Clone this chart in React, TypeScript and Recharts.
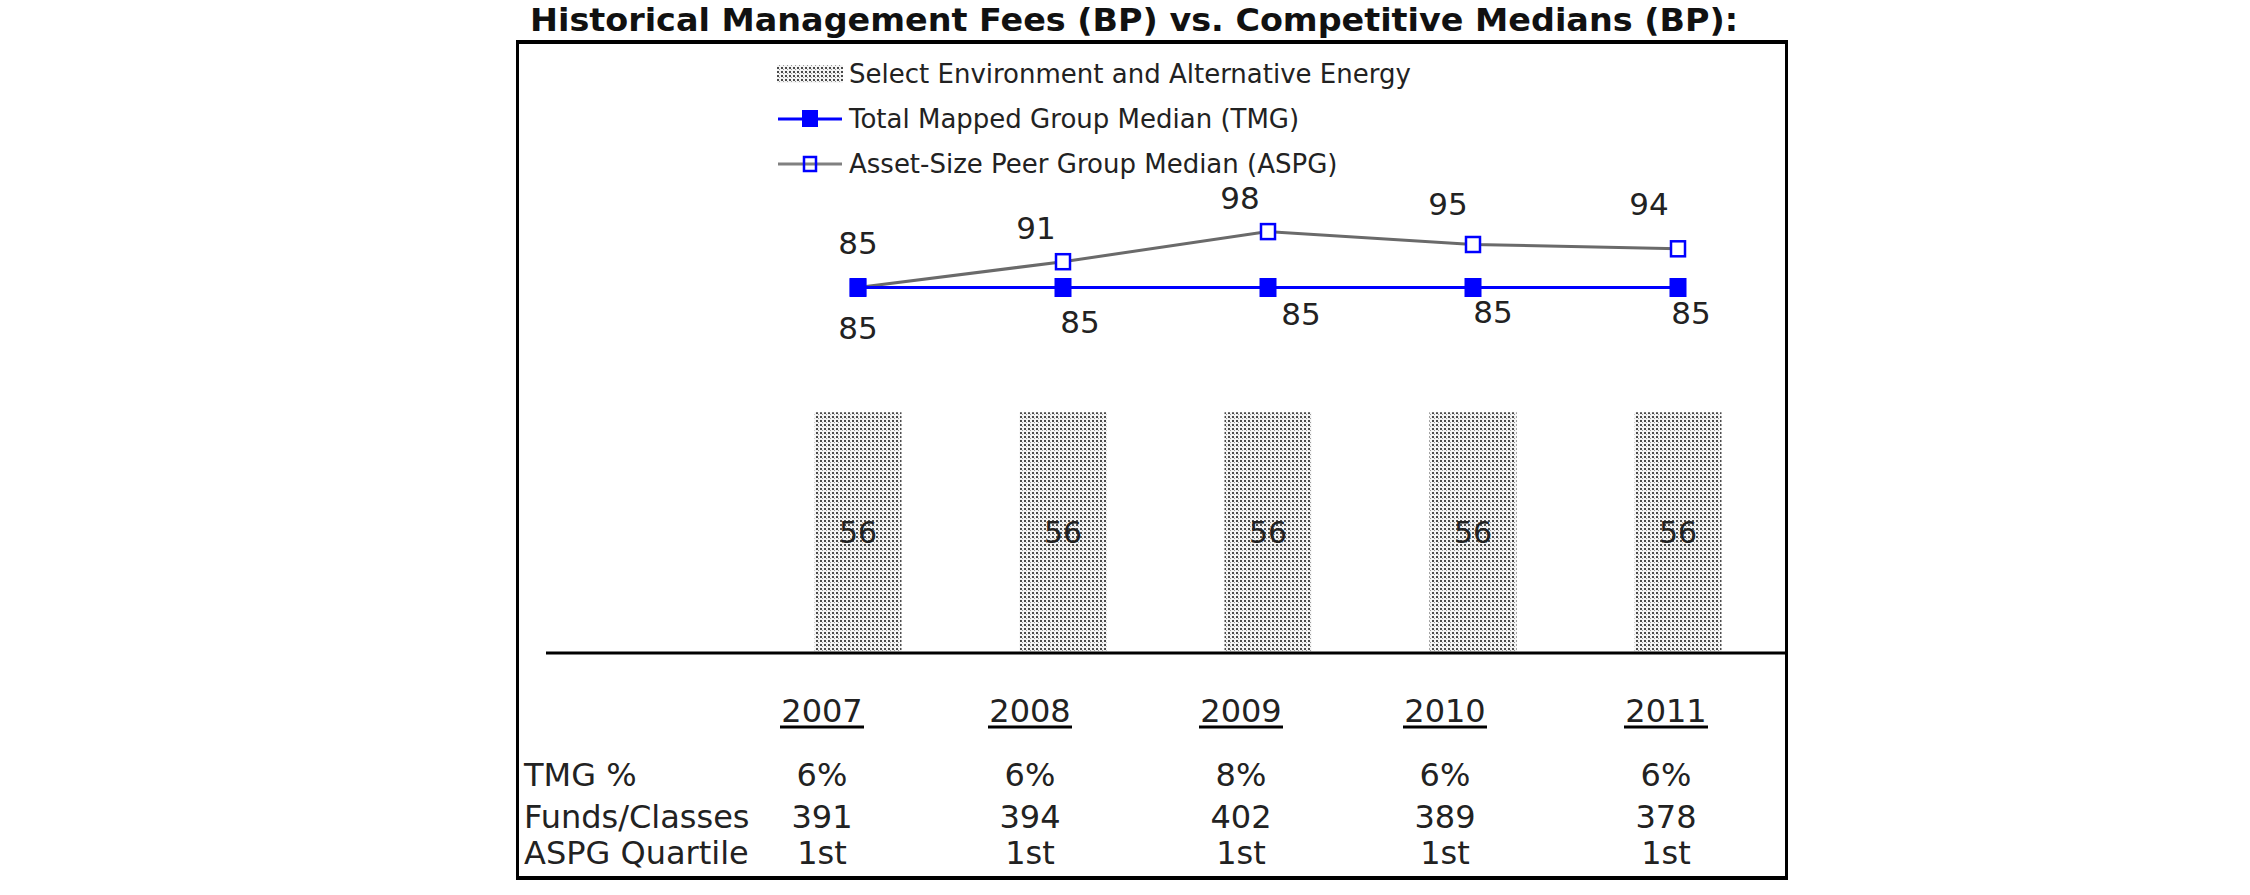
import {
  ComposedChart,
  Bar,
  Line,
  XAxis,
  YAxis,
  LabelList,
  Legend,
} from "recharts";

const years = ["2007", "2008", "2009", "2010", "2011"];
const fundFees = [56, 56, 56, 56, 56];
const tmgMedian = [85, 85, 85, 85, 85];
const aspgMedian = [85, 91, 98, 95, 94];
const tmgPct = ["6%", "6%", "8%", "6%", "6%"];
const fundsClasses = [391, 394, 402, 389, 378];
const aspgQuartile = ["1st", "1st", "1st", "1st", "1st"];
const rowLabels = ["TMG %", "Funds/Classes", "ASPG Quartile"];

const seriesNames: Record<string, string> = {
  fund: "Select Environment and Alternative Energy",
  tmg: "Total Mapped Group Median (TMG)",
  aspg: "Asset-Size Peer Group Median (ASPG)",
};

// label placement, as it sits in the original (dx, dy from the point)
const aspgNudge = [[0, -45], [-27, -34], [-28, -34], [-25, -41], [-29, -45]];
const tmgNudge = [[0, 40], [17, 34], [33, 26], [20, 24], [13, 25]];
const columnNudge = [-36, -33, -27, -28, -12];

const FONT = "'DejaVu Sans', Verdana, sans-serif";
const TEXT = "#222";

const chartData = years.map((year, i) => ({
  year,
  fund: fundFees[i],
  tmg: tmgMedian[i],
  aspg: aspgMedian[i],
}));

const FilledSquare = ({ cx, cy }: any) =>
  cx == null ? null : (
    <rect x={cx - 8.5} y={cy - 9.5} width={17} height={19} fill="#0000ff" />
  );

const HollowSquare = ({ cx, cy }: any) =>
  cx == null ? null : (
    <rect
      x={cx - 7}
      y={cy - 7.5}
      width={14}
      height={15}
      fill="#fff"
      stroke="#0000ff"
      strokeWidth={2.5}
    />
  );

const nudgedLabel = (nudge: number[][]) => (props: any) => {
  const { x, y, value, index } = props;
  const [dx, dy] = nudge[index] || [0, 0];
  return (
    <text
      x={x + dx}
      y={y + dy}
      textAnchor="middle"
      dominantBaseline="central"
      fontSize={31}
      fontFamily={FONT}
      fill={TEXT}
    >
      {value}
    </text>
  );
};

const barLabel = (props: any) => {
  const { x, y, width, height, value } = props;
  return (
    <text
      x={x + width / 2}
      y={y + height / 2}
      textAnchor="middle"
      dominantBaseline="central"
      fontSize={30}
      fontFamily={FONT}
      fill={TEXT}
    >
      {value}
    </text>
  );
};

const TableTick = (props: any) => {
  const { x, y, payload } = props;
  const i = payload.index;
  const cx = x + (columnNudge[i] || 0);
  const cell = (text: string | number, dy: number) => (
    <text
      x={cx}
      y={y + dy}
      textAnchor="middle"
      dominantBaseline="central"
      fontSize={32}
      fontFamily={FONT}
      fill={TEXT}
    >
      {text}
    </text>
  );
  return (
    <g>
      {cell(payload.value, 58)}
      <line x1={cx - 42} x2={cx + 42} y1={y + 74} y2={y + 74} stroke="#000" strokeWidth={3} />
      {cell(tmgPct[i], 122)}
      {cell(fundsClasses[i], 164)}
      {cell(aspgQuartile[i], 200)}
    </g>
  );
};

const legendOrder = ["fund", "tmg", "aspg"];

const LegendSwatch = ({ kind }: { kind: string }) => (
  <svg width={66} height={30} style={{ display: "block" }}>
    {kind === "fund" && <rect x={0} y={6} width={66} height={18} fill="url(#stipple)" />}
    {kind === "tmg" && (
      <g>
        <line x1={1} x2={65} y1={15} y2={15} stroke="#0000ff" strokeWidth={3} />
        <rect x={25} y={6} width={16} height={17} fill="#0000ff" />
      </g>
    )}
    {kind === "aspg" && (
      <g>
        <line x1={1} x2={65} y1={15} y2={15} stroke="#808080" strokeWidth={3} />
        <rect x={27} y={8} width={12} height={14} fill="none" stroke="#0000ff" strokeWidth={2.5} />
      </g>
    )}
  </svg>
);

const LegendContent = () => (
  <div style={{ fontFamily: FONT, fontSize: 26, color: TEXT }}>
    {legendOrder.map((key) => (
      <div key={key} style={{ display: "flex", alignItems: "center", height: 45 }}>
        <LegendSwatch kind={key} />
        <span style={{ marginLeft: 6, whiteSpace: "nowrap" }}>{seriesNames[key]}</span>
      </div>
    ))}
  </div>
);

export default function App() {
  return (
    <div
      style={{
        position: "absolute",
        left: 0,
        top: 0,
        width: 2250,
        height: 895,
        background: "#fff",
        overflow: "hidden",
      }}
    >
      <svg width={2250} height={895} style={{ position: "absolute", left: 0, top: 0 }}>
        <text
          x={530}
          y={31}
          fontSize={32}
          fontWeight="bold"
          fontFamily={FONT}
          fill="#111"
          textLength={1208}
          lengthAdjust="spacingAndGlyphs"
        >
          Historical Management Fees (BP) vs. Competitive Medians (BP):
        </text>
        {rowLabels.map((label, i) => (
          <text
            key={label}
            x={524}
            y={[775, 817, 853][i]}
            dominantBaseline="central"
            fontSize={32}
            fontFamily={FONT}
            fill={TEXT}
          >
            {label}
          </text>
        ))}
      </svg>
      <div
        style={{
          position: "absolute",
          left: 516,
          top: 40,
          width: 1272,
          height: 840,
          boxSizing: "border-box",
          borderTop: "4px solid #000",
          borderBottom: "4px solid #000",
          borderLeft: "3px solid #000",
          borderRight: "3px solid #000",
        }}
      />
      <div style={{ position: "absolute", left: 0, top: 0 }}>
        <ComposedChart
          width={2250}
          height={895}
          data={chartData}
          margin={{ top: 223, right: 465, bottom: 12, left: 546 }}
        >
          <defs>
            <pattern id="stipple" width={4} height={4} patternUnits="userSpaceOnUse">
              <rect width={4} height={4} fill="#f4f4f4" />
              <rect x={0} y={0} width={2} height={2} fill="#4a4a4a" />
              <rect x={2} y={2} width={1} height={1} fill="#9a9a9a" />
            </pattern>
          </defs>
          <XAxis
            dataKey="year"
            axisLine={{ stroke: "#000", strokeWidth: 3 }}
            tickLine={false}
            tickSize={0}
            tickMargin={0}
            height={230}
            interval={0}
            padding={{ left: 209.5, right: 4.5 }}
            tick={<TableTick />}
          />
          <YAxis hide domain={[0, 100]} />
          <Legend
            layout="horizontal"
            verticalAlign="middle"
            align="center"
            content={<LegendContent />}
            wrapperStyle={{ top: 51, left: 777, width: 800, height: 140 }}
          />
          <Bar dataKey="fund" barSize={87} fill="url(#stipple)" isAnimationActive={false}>
            <LabelList dataKey="fund" content={barLabel} />
          </Bar>
          <Line
            dataKey="aspg"
            type="linear"
            stroke="#6a6a6a"
            strokeWidth={3}
            dot={<HollowSquare />}
            activeDot={false}
            isAnimationActive={false}
          >
            <LabelList dataKey="aspg" content={nudgedLabel(aspgNudge)} />
          </Line>
          <Line
            dataKey="tmg"
            type="linear"
            stroke="#0000ff"
            strokeWidth={3}
            dot={<FilledSquare />}
            activeDot={false}
            isAnimationActive={false}
          >
            <LabelList dataKey="tmg" content={nudgedLabel(tmgNudge)} />
          </Line>
        </ComposedChart>
      </div>
    </div>
  );
}
